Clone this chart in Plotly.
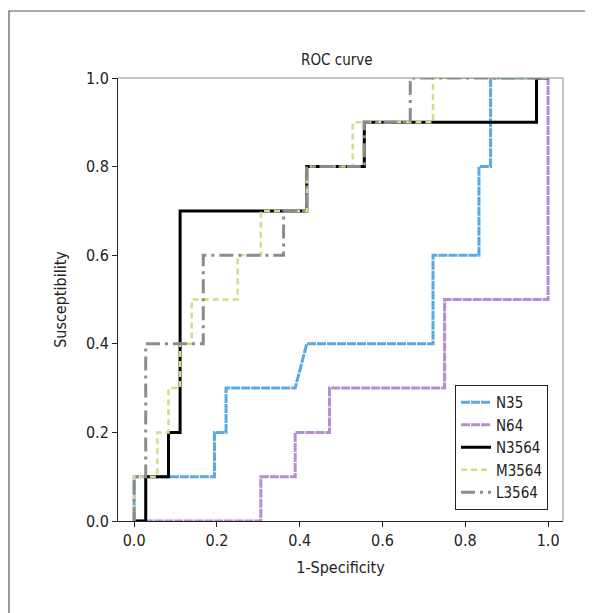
import plotly.graph_objects as go

# Data (step ROC curves)
n35_x = [0.0, 0.0, 0.194, 0.194, 0.222, 0.222, 0.389, 0.417, 0.722, 0.722, 0.833, 0.833, 0.861, 0.861, 1.0]
n35_y = [0.0, 0.1, 0.1, 0.2, 0.2, 0.3, 0.3, 0.4, 0.4, 0.6, 0.6, 0.8, 0.8, 1.0, 1.0]

n64_x = [0.0, 0.306, 0.306, 0.389, 0.389, 0.472, 0.472, 0.75, 0.75, 1.0, 1.0]
n64_y = [0.0, 0.0, 0.1, 0.1, 0.2, 0.2, 0.3, 0.3, 0.5, 0.5, 1.0]

n3564_x = [0.0, 0.028, 0.028, 0.083, 0.083, 0.111, 0.111, 0.417, 0.417, 0.556, 0.556, 0.972, 0.972, 1.0]
n3564_y = [0.0, 0.0, 0.1, 0.1, 0.2, 0.2, 0.7, 0.7, 0.8, 0.8, 0.9, 0.9, 1.0, 1.0]

m3564_x = [0.0, 0.0, 0.056, 0.056, 0.083, 0.083, 0.111, 0.111, 0.139, 0.139, 0.25, 0.25,
           0.306, 0.306, 0.417, 0.417, 0.528, 0.528, 0.722, 0.722, 1.0]
m3564_y = [0.0, 0.1, 0.1, 0.2, 0.2, 0.3, 0.3, 0.4, 0.4, 0.5, 0.5, 0.6,
           0.6, 0.7, 0.7, 0.8, 0.8, 0.9, 0.9, 1.0, 1.0]

l3564_x = [0.0, 0.0, 0.028, 0.028, 0.167, 0.167, 0.361, 0.361, 0.417, 0.417, 0.556, 0.556, 0.667, 0.667, 1.0]
l3564_y = [0.0, 0.1, 0.1, 0.4, 0.4, 0.6, 0.6, 0.7, 0.7, 0.8, 0.8, 0.9, 0.9, 1.0, 1.0]

tick_vals = [0.0, 0.2, 0.4, 0.6, 0.8, 1.0]
tick_text = ["0.0", "0.2", "0.4", "0.6", "0.8", "1.0"]

FONT = "DejaVu Sans Condensed, Liberation Sans Narrow, sans-serif"

fig = go.Figure()
series = [
    ("N35", n35_x, n35_y, "#5aa9e0", 3, "9px,1px"),
    ("N64", n64_x, n64_y, "#b48fcb", 3, "9px,1px"),
    ("N3564", n3564_x, n3564_y, "#000000", 3, "solid"),
    ("M3564", m3564_x, m3564_y, "#d9d98a", 2.5, "6px,4px"),
    ("L3564", l3564_x, l3564_y, "#8c8c8c", 3, "14px,5px,3px,5px"),
]
for name, xs, ys, col, w, dash in series:
    fig.add_trace(go.Scatter(x=xs, y=ys, mode="lines", name=name,
                             line=dict(color=col, width=w, dash=dash)))

# page is offset by the 8px body margin; figure sized to fit the viewport
W, H = 577, 605
PL, PT, PR, PB = 110, 70, 555, 513  # plot area in figure pixels
pw, ph = PR - PL, PB - PT

fig.update_layout(
    width=W, height=H,
    margin=dict(l=PL, r=W - PR, t=PT, b=H - PB),
    paper_bgcolor="white", plot_bgcolor="white",
    font=dict(family=FONT, size=14, color="#222"),
    showlegend=True,
    legend=dict(x=(447 - PL) / pw, y=(PB - 377) / ph, xanchor="left", yanchor="top",
                bgcolor="white", bordercolor="#222", borderwidth=1,
                font=dict(size=15, family=FONT, color="#222"),
                tracegroupgap=0, itemwidth=30),
    annotations=[
        dict(text="ROC curve", x=(329 - PL) / pw, y=(PB - 52) / ph, xref="paper", yref="paper",
             yanchor="middle", showarrow=False, font=dict(size=15)),
    ],
)

fig.update_xaxes(range=[-0.039, 1.036], tickvals=tick_vals, ticktext=tick_text,
                 showgrid=False, zeroline=False, showline=True, linecolor="#222",
                 linewidth=1, ticks="outside", ticklen=5, tickcolor="#222",
                 automargin=False,
                 title=dict(text="1-Specificity", font=dict(size=16), standoff=12),
                 tickfont=dict(size=16))
fig.update_yaxes(range=[0, 1], tickvals=tick_vals, ticktext=tick_text,
                 showgrid=False, zeroline=False, showline=True, linecolor="#222",
                 linewidth=1, ticks="outside", ticklen=5, tickcolor="#222",
                 automargin=False,
                 title=dict(text="Susceptibility", font=dict(size=16), standoff=15),
                 tickfont=dict(size=16))

# top and right plot border (grey)
fig.add_shape(type="line", xref="paper", yref="paper", x0=0, x1=1, y0=1, y1=1,
              line=dict(color="#888", width=1))
fig.add_shape(type="line", xref="paper", yref="paper", x0=1, x1=1, y0=0, y1=1,
              line=dict(color="#888", width=1))
# outer frame (left and top edges visible)
fig.add_shape(type="rect", xref="paper", yref="paper",
              x0=(1 - PL) / pw, x1=1.3, y0=-0.4, y1=(PB - 3) / ph,
              line=dict(color="#555", width=1.2), layer="below")

fig.write_html("out.html")
